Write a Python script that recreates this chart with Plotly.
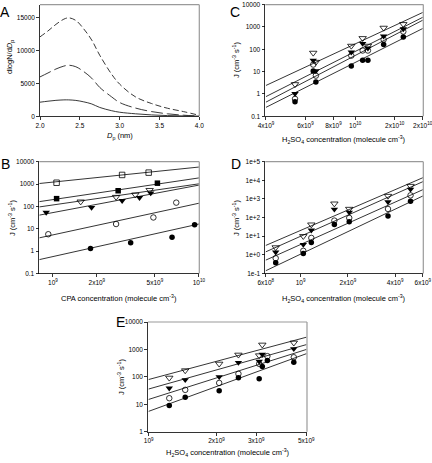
import plotly.graph_objects as go
import math

W, H = 432, 463

# ---------------- Panel A: size distributions ----------------
dp_nm = [2.0, 2.1, 2.2, 2.3, 2.36, 2.45, 2.55, 2.65, 2.75, 2.9, 3.0, 3.2, 3.4, 3.6, 3.8, 4.0]
dist_solid = [2150, 2300, 2430, 2500, 2500, 2420, 2200, 1880, 1350, 850, 620, 380, 210, 110, 60, 30]
dist_longdash = [6000, 6600, 7200, 7650, 7780, 7550, 6800, 5800, 4400, 2950, 2100, 1250, 720, 380, 170, 30]
dist_dash = [12100, 13000, 14000, 14800, 15000, 14600, 13300, 11600, 9300, 6400, 4900, 2950, 1950, 1230, 720, 150]

# ---------------- Panel B: J vs CPA ----------------
b_xends = [8.07e8, 1.0e10]
b_sqo_x = [1.06e9, 2.98e9, 4.53e9]
b_sqo_y = [1150, 2570, 3260]
b_sqf_x = [1.06e9, 2.80e9, 5.2e9]
b_sqf_y = [223, 504, 1100]
b_tro_x = [1.55e9, 2.71e9, 3.67e9, 4.6e9]
b_tro_y = [164, 264, 335, 538]
b_trf_x = [9.0e8, 1.84e9, 2.98e9, 3.92e9, 4.68e9]
b_trf_y = [53.5, 89, 182, 247, 397]
b_cio_x = [9.3e8, 2.71e9, 4.88e9, 7.0e9]
b_cio_y = [5.7, 16.3, 32, 148]
b_cif_x = [1.81e9, 3.41e9, 6.55e9, 9.35e9]
b_cif_y = [1.32, 2.36, 4.19, 15.2]
b_fit_sqo = [1063, 5800]
b_fit_sqf = [164, 1890]
b_fit_tro = [95, 1028]
b_fit_trf = [40.7, 898]
b_fit_cio = [3.92, 139]
b_fit_cif = [0.416, 16.3]

# ---------------- Panel C ----------------
c_xends = [4e9, 2e10]
c_x = [5.39e9, 6.50e9, 6.68e9, 9.61e9, 1.08e10, 1.14e10, 1.34e10, 1.64e10]
c_tro_y = [2.7, 69, 27, 142, 313, 142, 912, 1330]
c_trf_y = [1.03, 32, 10.7, 74, 181, 112, 385, 822]
c_cio_y = [0.60, 20.7, 6.6, 52, 88, 88, 273, 624]
c_cif_y = [0.45, 10.7, 3.45, 18, 32, 32, 163, 360]
c_fit_tro = [2.4, 4450]
c_fit_trf = [0.76, 2700]
c_fit_cio = [0.43, 2000]
c_fit_cif = [0.25, 850]

# ---------------- Panel D ----------------
d_xends = [6e8, 6e9]
d_x = [6.94e8, 1.04e9, 1.17e9, 1.64e9, 2.04e9, 3.60e9, 5.01e9]
d_tro_y = [2.5, 10, 42, 562, 291, 1450, 4970]
d_trf_y = [1.39, 3.58, 21, 279, 193, 690, 3300]
d_cio_y = [0.66, 1.64, 8.1, 69, 96, 291, 1570]
d_cif_y = [0.37, 1.18, 4.6, 42, 59, 123, 750]
d_fit_tro = [3.2, 13900]
d_fit_trf = [1.45, 8500]
d_fit_cio = [0.52, 3160]
d_fit_cif = [0.14, 1450]

# ---------------- Panel E ----------------
e_xends = [1e9, 5e9]
e_tro_x = [1.234e9, 1.452e9, 2.054e9, 2.50e9, 3.09e9, 3.19e9, 4.40e9]
e_tro_y = [92, 171, 299, 638, 603, 1483, 1754]
e_trf_x = [1.234e9, 1.452e9, 2.054e9, 2.50e9, 3.09e9, 3.19e9, 4.40e9]
e_trf_y = [38.5, 77.6, 100, 334, 364, 656, 1057]
e_cio_x = [1.234e9, 1.452e9, 2.054e9, 2.50e9, 3.09e9, 3.36e9, 4.40e9]
e_cio_y = [16.6, 33.5, 60, 129, 299, 570, 520]
e_cif_x = [1.234e9, 1.452e9, 2.054e9, 2.50e9, 3.09e9, 3.19e9, 3.36e9, 4.40e9]
e_cif_y = [8.9, 18, 30.8, 92, 84.5, 239, 396, 344]
e_fit_tro = [80, 2800]
e_fit_trf = [36, 1500]
e_fit_cio = [15, 1000]
e_fit_cif = [5.5, 700]

# tick labels
j_ticks = [0.1, 1, 10, 100, 1000, 10000]
j_text = ["0.1", "1", "10", "100", "1000", "10000"]
d_jticks = [0.1, 1, 10, 100, 1000, 1e4, 1e5]
d_jtext = ["1e-1", "1e+0", "1e+1", "1e+2", "1e+3", "1e+4", "1e+5"]
e_jticks = [1, 10, 100, 1000, 10000]
e_jtext = ["1", "10", "100", "1000", "10000"]
b_xticks = [1e9, 2e9, 5e9, 1e10]
b_xtext = ["10<sup>9</sup>", "2x10<sup>9</sup>", "5x10<sup>9</sup>", "10<sup>10</sup>"]
c_xticks = [4e9, 6e9, 8e9, 1e10, 1.5e10, 2e10]
c_xtext = ["4x10<sup>9</sup>", "6x10<sup>9</sup>", "8x10<sup>9</sup>", "10<sup>10</sup>",
           "2x10<sup>10</sup>", "2x10<sup>10</sup>"]
d_xticks = [6e8, 1e9, 2e9, 4e9, 6e9]
d_xtext = ["6x10<sup>8</sup>", "10<sup>9</sup>", "2x10<sup>9</sup>", "4x10<sup>9</sup>", "6x10<sup>9</sup>"]
e_xticks = [1e9, 2e9, 3e9, 5e9]
e_xtext = ["10<sup>9</sup>", "2x10<sup>9</sup>", "3x10<sup>9</sup>", "5x10<sup>9</sup>"]

# ---------------- figure ----------------
fig = go.Figure()


def px_x(p):
    return p / W


def px_y(p):
    return 1 - p / H


# panel boxes in pixels: (left, right, top, bottom)
boxes = {
    "A": (40, 199.3, 4.7, 116.3),
    "C": (265.3, 423.3, 4.6, 116.3),
    "B": (39.3, 199.3, 161.7, 273.5),
    "D": (265.3, 423.3, 161.7, 273.5),
    "E": (148, 307, 322, 431.7),
}
axes_ids = {"A": ("x", "y", ""), "B": ("x2", "y2", "2"), "C": ("x3", "y3", "3"),
            "D": ("x4", "y4", "4"), "E": ("x5", "y5", "5")}

SYMS = {"sqo": "square-open", "sqf": "square", "tro": "triangle-down-open",
        "trf": "triangle-down", "cio": "circle-open", "cif": "circle"}


def add_pts(xs, ys, kind, panel):
    xa, ya, _ = axes_ids[panel]
    fig.add_trace(go.Scatter(
        x=xs, y=ys, mode="markers", xaxis=xa, yaxis=ya, showlegend=False,
        cliponaxis=False, hoverinfo="skip",
        marker=dict(symbol=SYMS[kind], size=5.5 if ("ci" in kind or "sq" in kind) else 6.5,
                    color="black", line=dict(color="black", width=0.8 if kind.endswith("o") else 0))))


def add_fit(xs, ys, panel):
    xa, ya, _ = axes_ids[panel]
    fig.add_trace(go.Scatter(x=xs, y=ys, mode="lines", xaxis=xa, yaxis=ya, showlegend=False,
                             hoverinfo="skip", line=dict(color="black", width=0.8)))


# Panel A curves
for ys, dash in [(dist_solid, "solid"), (dist_longdash, "12px,4px"), (dist_dash, "6px,3px")]:
    fig.add_trace(go.Scatter(x=dp_nm, y=ys, mode="lines", xaxis="x", yaxis="y", showlegend=False,
                             hoverinfo="skip",
                             line=dict(color="#222222", width=0.9, dash=dash, shape="spline", smoothing=1.0)))

# Panel B
for fit in [b_fit_sqo, b_fit_sqf, b_fit_tro, b_fit_trf, b_fit_cio, b_fit_cif]:
    add_fit(b_xends, fit, "B")
add_pts(b_sqo_x, b_sqo_y, "sqo", "B")
add_pts(b_sqf_x, b_sqf_y, "sqf", "B")
add_pts(b_tro_x, b_tro_y, "tro", "B")
add_pts(b_trf_x, b_trf_y, "trf", "B")
add_pts(b_cio_x, b_cio_y, "cio", "B")
add_pts(b_cif_x, b_cif_y, "cif", "B")

# Panel C
for fit in [c_fit_tro, c_fit_trf, c_fit_cio, c_fit_cif]:
    add_fit(c_xends, fit, "C")
add_pts(c_x, c_tro_y, "tro", "C")
add_pts(c_x, c_trf_y, "trf", "C")
add_pts(c_x, c_cio_y, "cio", "C")
add_pts(c_x, c_cif_y, "cif", "C")

# Panel D
for fit in [d_fit_tro, d_fit_trf, d_fit_cio, d_fit_cif]:
    add_fit(d_xends, fit, "D")
add_pts(d_x, d_tro_y, "tro", "D")
add_pts(d_x, d_trf_y, "trf", "D")
add_pts(d_x, d_cio_y, "cio", "D")
add_pts(d_x, d_cif_y, "cif", "D")

# Panel E
for fit in [e_fit_tro, e_fit_trf, e_fit_cio, e_fit_cif]:
    add_fit(e_xends, fit, "E")
add_pts(e_tro_x, e_tro_y, "tro", "E")
add_pts(e_trf_x, e_trf_y, "trf", "E")
add_pts(e_cio_x, e_cio_y, "cio", "E")
add_pts(e_cif_x, e_cif_y, "cif", "E")


def lg(v):
    return math.log10(v)


base_axis = dict(showline=True, linecolor="black", linewidth=0.8, ticks="outside", ticklen=3,
                 tickwidth=0.8, tickcolor="black", showgrid=False, zeroline=False,
                 tickfont=dict(size=6.5, color="black"), mirror=False, automargin=False,
                 fixedrange=True, ticklabeloverflow="allow")

eps = 0.003
axis_cfg = {
    "A": (dict(type="linear", range=[2.0, 4.0], tickvals=[2.0, 2.5, 3.0, 3.5, 4.0],
               ticktext=["2.0", "2.5", "3.0", "3.5", "4.0"]),
          dict(type="linear", range=[0, 17000], tickvals=[0, 5000, 10000, 15000],
               ticktext=["0", "5000", "10000", "15000"])),
    "B": (dict(type="log", range=[lg(b_xends[0]), lg(b_xends[1]) + eps], tickvals=b_xticks, ticktext=b_xtext),
          dict(type="log", range=[-1 - eps, 4 + eps], tickvals=j_ticks, ticktext=j_text)),
    "C": (dict(type="log", range=[lg(c_xends[0]) - eps, lg(c_xends[1]) + eps], tickvals=c_xticks, ticktext=c_xtext),
          dict(type="log", range=[-1 - eps, 4 + eps], tickvals=j_ticks, ticktext=j_text)),
    "D": (dict(type="log", range=[lg(d_xends[0]) - eps, lg(d_xends[1]) + eps], tickvals=d_xticks, ticktext=d_xtext),
          dict(type="log", range=[-1 - eps, 5 + eps], tickvals=d_jticks, ticktext=d_jtext)),
    "E": (dict(type="log", range=[lg(e_xends[0]) - eps, lg(e_xends[1]) + eps], tickvals=e_xticks, ticktext=e_xtext),
          dict(type="log", range=[0 - eps, 4 + eps], tickvals=e_jticks, ticktext=e_jtext)),
}

layout_axes = {}
shapes = []
for panel, (l, r, t, b) in boxes.items():
    xa, ya, suf = axes_ids[panel]
    xcfg, ycfg = axis_cfg[panel]
    xd = dict(base_axis, **xcfg, domain=[px_x(l), px_x(r)], anchor=ya)
    yd = dict(base_axis, **ycfg, domain=[px_y(b), px_y(t)], anchor=xa)
    layout_axes["xaxis" + suf] = xd
    layout_axes["yaxis" + suf] = yd
    # grey frame on top and right
    shapes.append(dict(type="line", xref="paper", yref="paper", x0=px_x(l), x1=px_x(r),
                       y0=px_y(t), y1=px_y(t), line=dict(color="#9a9a9a", width=1.2)))
    shapes.append(dict(type="line", xref="paper", yref="paper", x0=px_x(r), x1=px_x(r),
                       y0=px_y(b), y1=px_y(t), line=dict(color="#9a9a9a", width=1.2)))

TFS = 7.5
jtitle = "J (cm<sup>-3</sup> s<sup>-1</sup>)"
h2so4 = "H<sub>2</sub>SO<sub>4</sub> concentration (molecule cm<sup>-3</sup>)"
texts = [
    # (text, x px, y px, angle, size)
    ("A", 5, 12, 0, 14), ("B", 5.5, 164, 0, 14), ("C", 235, 12, 0, 14),
    ("D", 236, 164, 0, 14), ("E", 120.5, 322, 0, 14),
    ("<i>D</i><sub>p</sub> (nm)", 120, 136, 0, TFS),
    ("dlogN/d<i>D</i><sub>p</sub>", 10, 57, -90, TFS),
    ("CPA concentration (molecule cm<sup>-3</sup>)", 119, 298, 0, TFS),
    (jtitle, 12, 218, -90, TFS),
    (h2so4, 344, 139, 0, TFS),
    (jtitle, 236, 60, -90, TFS),
    (h2so4, 344, 298, 0, TFS),
    (jtitle, 236, 218, -90, TFS),
    (h2so4, 228, 452, 0, TFS),
    (jtitle, 121, 377, -90, TFS),
]
annotations = [dict(text=t, x=px_x(x), y=px_y(y), xref="paper", yref="paper", showarrow=False,
                    textangle=a, font=dict(size=s, color="black"), xanchor="center", yanchor="middle")
               for t, x, y, a, s in texts]

fig.update_layout(width=W, height=H, margin=dict(l=0, r=0, t=0, b=0, autoexpand=False),
                  paper_bgcolor="white", plot_bgcolor="white", hovermode=False,
                  font=dict(family="Liberation Sans, Arial, sans-serif", color="black"),
                  shapes=shapes, annotations=annotations, **layout_axes)

fig.write_html("out.html", config={"displayModeBar": False, "staticPlot": True},
               post_script="document.body.style.margin='0';document.body.style.overflow='hidden';")
